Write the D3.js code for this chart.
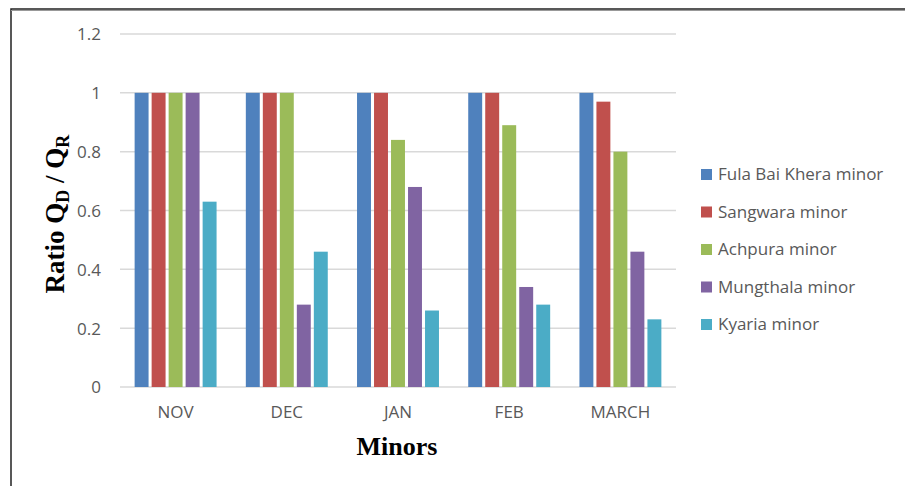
<!DOCTYPE html>
<html>
<head>
<meta charset="utf-8">
<script src="https://cdn.jsdelivr.net/npm/d3@7"></script>
<style>
  html, body { margin: 0; padding: 0; background: #fff; }
  svg { display: block; }
</style>
</head>
<body>
<svg id="chart" width="905" height="486"></svg>
<script>
// Months on the category axis
const months = ["NOV", "DEC", "JAN", "FEB", "MARCH"];
// Minor canals (one series each)
const seriesNames = ["Fula Bai Khera minor", "Sangwara minor", "Achpura minor", "Mungthala minor", "Kyaria minor"];
const seriesColors = ["#4F81BD", "#C0504D", "#9BBB59", "#8064A2", "#4BACC6"];
// Ratio QD / QR per minor, ordered by month
const fulaBaiKhera = [1, 1, 1, 1, 1];
const sangwara     = [1, 1, 1, 1, 0.97];
const achpura      = [1, 1, 0.84, 0.89, 0.80];
const mungthala    = [1, 0.28, 0.68, 0.34, 0.46];
const kyaria       = [0.63, 0.46, 0.26, 0.28, 0.23];
const seriesValues = [fulaBaiKhera, sangwara, achpura, mungthala, kyaria];
const yTicks = [0, 0.2, 0.4, 0.6, 0.8, 1, 1.2];

const svg = d3.select("#chart");
const plot = { left: 120, right: 676, top: 34, bottom: 387 };
const labelFont = "'Open Sans', sans-serif";
const labelSize = 17;

// Outer frame (top and left edges visible)
svg.append("rect")
  .attr("x", 11).attr("y", 9).attr("width", 1000).attr("height", 600)
  .attr("fill", "none").attr("stroke", "#222").attr("stroke-width", 1.5);
svg.append("line")
  .attr("x1", 11).attr("x2", 905).attr("y1", 10.5).attr("y2", 10.5)
  .attr("stroke", "#999").attr("stroke-width", 1);

const x = d3.scaleBand().domain(months).range([plot.left, plot.right]).padding(0);
const xInner = d3.scaleBand().domain(seriesNames).range([0, 85])
  .paddingInner(0.18).paddingOuter(0.09);
const y = d3.scaleLinear().domain([0, 1.2]).range([plot.bottom, plot.top]);

// Horizontal gridlines
svg.append("g").selectAll("line").data(yTicks).join("line")
  .attr("x1", plot.left).attr("x2", plot.right)
  .attr("y1", d => y(d)).attr("y2", d => y(d))
  .attr("stroke", "#d9d9d9").attr("stroke-width", 1.5);

// Y axis labels
const yAxis = d3.axisLeft(y).tickValues(yTicks).tickSize(0).tickPadding(0)
  .tickFormat(d => String(d));
const yg = svg.append("g").attr("transform", `translate(${plot.left - 19},0)`).call(yAxis);
yg.select(".domain").remove();
yg.selectAll("text")
  .attr("font-family", labelFont).attr("font-size", labelSize)
  .attr("fill", "#595959").attr("dy", "0.35em");

// X axis labels
const xAxis = d3.axisBottom(x).tickSize(0).tickPadding(0);
const xg = svg.append("g").attr("transform", `translate(0,${plot.bottom + 19})`).call(xAxis);
xg.select(".domain").remove();
xg.selectAll("text")
  .attr("font-family", labelFont).attr("font-size", labelSize)
  .attr("fill", "#595959").attr("dy", "0.71em");

// Bars
const groupOffset = (x.bandwidth() - 85) / 2;
const groups = svg.append("g").selectAll("g").data(months).join("g")
  .attr("transform", m => `translate(${x(m) + groupOffset},0)`);
groups.selectAll("rect")
  .data((m, mi) => seriesNames.map((s, si) => ({ s, si, v: seriesValues[si][mi] })))
  .join("rect")
  .attr("x", d => xInner(d.s))
  .attr("width", xInner.bandwidth())
  .attr("y", d => y(d.v))
  .attr("height", d => y(0) - y(d.v))
  .attr("fill", d => seriesColors[d.si]);

// Legend
const legend = svg.append("g").selectAll("g").data(seriesNames).join("g")
  .attr("transform", (d, i) => `translate(701,${174.5 + i * 37.5})`);
legend.append("rect")
  .attr("x", 0).attr("y", -5.5).attr("width", 11).attr("height", 11)
  .attr("fill", (d, i) => seriesColors[i]);
legend.append("text")
  .attr("x", 17).attr("y", 0).attr("dy", "0.35em")
  .attr("font-family", labelFont).attr("font-size", labelSize)
  .attr("fill", "#595959").text(d => d);

// Axis titles
svg.append("text")
  .attr("x", (plot.left + plot.right) / 2 - 1).attr("y", 455)
  .attr("text-anchor", "middle")
  .attr("font-family", "'Liberation Serif', 'Times New Roman', serif")
  .attr("font-weight", "bold").attr("font-size", 26).attr("fill", "#000")
  .text("Minors");

const yTitle = svg.append("text")
  .attr("transform", "translate(64,214) rotate(-90)")
  .attr("text-anchor", "middle")
  .attr("font-family", "'Liberation Serif', 'Times New Roman', serif")
  .attr("font-weight", "bold").attr("font-size", 27).attr("fill", "#000");
yTitle.append("tspan").text("Ratio Q");
yTitle.append("tspan").attr("font-size", 18).attr("dy", 5).text("D");
yTitle.append("tspan").attr("dy", -5).text(" / Q");
yTitle.append("tspan").attr("font-size", 18).attr("dy", 5).text("R");
</script>
</body>
</html>
